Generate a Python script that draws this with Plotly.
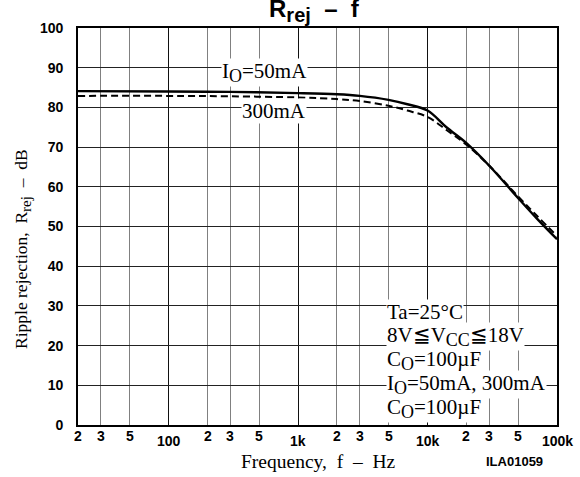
import numpy as np
import plotly.graph_objects as go

# Ripple rejection vs frequency, two load currents
freq_hz = [20, 100, 300, 1000, 2000, 3000, 5000, 7000, 10000, 14000, 20000, 30000, 50000, 70000, 100000]
rrej_50ma = [84.1, 84.0, 83.9, 83.6, 83.3, 82.9, 81.9, 80.8, 79.2, 75.0, 71.0, 65.3, 57.2, 52.0, 46.8]
rrej_300ma = [82.9, 82.9, 82.8, 82.5, 82.1, 81.6, 80.4, 79.2, 77.6, 74.3, 70.6, 65.3, 57.6, 52.7, 47.6]

# x tick labels (minor 2/3/5 and decade labels)
minor_ticks = [20, 30, 50, 200, 300, 500, 2000, 3000, 5000, 20000, 30000, 50000]
minor_labels = ["2", "3", "5", "2", "3", "5", "2", "3", "5", "2", "3", "5"]
decade_ticks = [100, 1000, 10000, 100000]
decade_labels = ["100", "1k", "10k", "100k"]
y_ticks = list(range(0, 101, 10))


def sub(t, size):
    return "<sub><span style='font-size:%dpx'>%s</span></sub>" % (size, t)


cond_lines = ["Ta=25°C",
              "8V≦V" + sub("CC", 18) + "≦18V",
              "C" + sub("O", 18) + "=100µF",
              "I" + sub("O", 18) + "=50mA, 300mA",
              "C" + sub("O", 18) + "=100µF"]

W, H = 580, 477
L, R, T, B = 78, 23, 28, 52
PH = H - T - B
PW = W - L - R


def py(pix):
    return (H - B - pix) / PH


def px(pix):
    return (pix - L) / PW


serif = "Liberation Serif, Times New Roman, serif"
sans = "Liberation Sans, Arial, sans-serif"

fig = go.Figure()
fig.add_trace(go.Scatter(x=freq_hz, y=rrej_300ma, mode="lines", line_shape="spline",
                         line=dict(color="black", width=2, dash="7px,4px"), showlegend=False))
fig.add_trace(go.Scatter(x=freq_hz, y=rrej_50ma, mode="lines", line_shape="spline",
                         line=dict(color="black", width=2.4), showlegend=False))

ann = []
for v, t in zip(minor_ticks, minor_labels):
    ann.append(dict(x=np.log10(v), y=py(436), xref="x", yref="paper", text=t, showarrow=False,
                    font=dict(family=sans, size=14, color="black", weight="bold"),
                    xanchor="center", yanchor="middle"))
for v, t in zip(decade_ticks, decade_labels):
    ann.append(dict(x=np.log10(v), y=py(441), xref="x", yref="paper", text=t, showarrow=False,
                    font=dict(family=sans, size=14, color="black", weight="bold"),
                    xanchor="center", yanchor="middle"))

# curve labels
ann.append(dict(x=px(264), y=py(72), xref="paper", yref="paper", text="I" + sub("O", 18) + "=50mA",
                showarrow=False, bgcolor="white", borderpad=0, xanchor="center", yanchor="middle",
                font=dict(family=serif, size=21, color="black")))
ann.append(dict(x=px(274), y=py(111), xref="paper", yref="paper", text="300mA",
                showarrow=False, bgcolor="white", borderpad=0, xanchor="center", yanchor="middle",
                font=dict(family=serif, size=21, color="black")))

# operating conditions (drawn bottom-up so subscripts stay visible)
for i in reversed(range(len(cond_lines))):
    ann.append(dict(x=px(386), y=py(312 + 24 * i), xref="paper", yref="paper", text=cond_lines[i],
                    showarrow=False, bgcolor="white", borderpad=0, xanchor="left", yanchor="middle",
                    font=dict(family=serif, size=21, color="black")))

# title, axis titles and drawing number
ann.append(dict(x=px(314), y=py(11), xref="paper", yref="paper",
                text="R" + sub("rej", 20) + "  –  f", showarrow=False, xanchor="center", yanchor="middle",
                font=dict(family=sans, size=24, color="black", weight="bold")))
ann.append(dict(x=px(318), y=py(461), xref="paper", yref="paper",
                text="Frequency,  f  –  Hz", showarrow=False, xanchor="center", yanchor="middle",
                font=dict(family=serif, size=19.5, color="black")))
ann.append(dict(x=px(514), y=py(461), xref="paper", yref="paper",
                text="ILA01059", showarrow=False, xanchor="center", yanchor="middle",
                font=dict(family=sans, size=13, color="black", weight="bold")))
ann.append(dict(x=px(22), y=py(249), xref="paper", yref="paper",
                text="Ripple rejection,  R" + sub("rej", 15) + "  –  dB", showarrow=False, textangle=-90,
                xanchor="center", yanchor="middle",
                font=dict(family=serif, size=17.5, color="black")))

fig.update_layout(
    width=W, height=H,
    margin=dict(l=L, r=R, t=T, b=B),
    paper_bgcolor="white", plot_bgcolor="white",
    annotations=ann,
    xaxis=dict(type="log", range=[np.log10(20), np.log10(100000)],
               tickmode="array", tickvals=[100, 1000, 10000], showticklabels=False, ticks="",
               showgrid=True, gridcolor="#111", gridwidth=1.3,
               minor=dict(tickmode="array", tickvals=minor_ticks, showgrid=True,
                          gridcolor="#808080", gridwidth=1.3, ticks=""),
               showline=True, linecolor="black", linewidth=1.8, mirror=True, zeroline=False),
    yaxis=dict(range=[0, 100], tickmode="array", tickvals=y_ticks, ticks="",
               ticklabelstandoff=10,
               showgrid=True, gridcolor="#222", gridwidth=1,
               tickfont=dict(family=sans, size=14, color="black", weight="bold"),
               showline=True, linecolor="black", linewidth=1.8, mirror=True, zeroline=False),
)

fig.write_html("out.html")
